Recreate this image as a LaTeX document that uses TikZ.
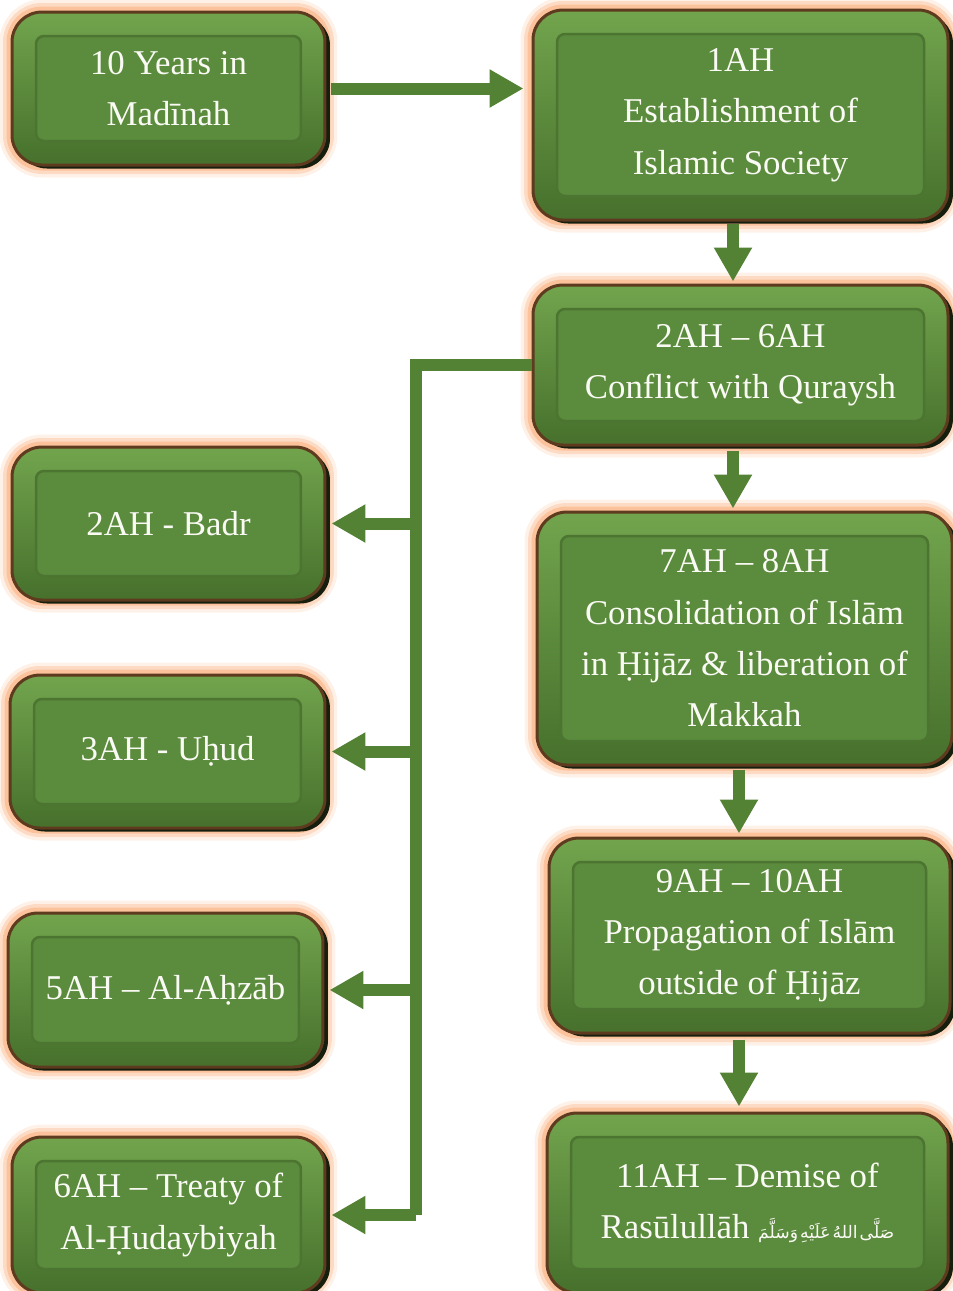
\documentclass[tikz,border=0pt]{standalone}
\usepackage{fontspec}
\setmainfont{Liberation Serif}
\newfontfamily\arabicfont[Script=Arabic]{DejaVu Sans}
\TeXXeTstate=1
\usetikzlibrary{arrows.meta,calc,positioning}
\definecolor{tlGreen}{HTML}{5B8B3D}
\definecolor{tlGreenLight}{HTML}{72A44D}
\definecolor{tlGreenDark}{HTML}{46702C}
\definecolor{tlEdge}{HTML}{4B7530}
\definecolor{tlRim}{HTML}{5E3A1E}
\definecolor{tlShade}{HTML}{161E0E}
\definecolor{tlGlow}{HTML}{FBB88C}
\definecolor{tlLink}{HTML}{548235}
\definecolor{tlText}{HTML}{FAFAF4}
\newcommand{\tlfont}{\fontsize{9.9}{14.6}\selectfont}
\tikzset{
  tl inner/.style={draw=tlEdge, fill=tlGreen, line width=.25mm, rounded corners=.8mm},
  tl box/.style={
    rectangle, rounded corners=3mm,
    draw=tlRim, line width=.3mm,
    top color=tlGreenLight, bottom color=tlGreenDark,
    text=tlText, align=center, font=\tlfont, inner sep=0pt,
    preaction={draw=tlGlow, line width=2.5mm, draw opacity=.2},
    preaction={draw=tlGlow, line width=1.8mm, draw opacity=.4},
    preaction={draw=tlGlow, line width=1.1mm, draw opacity=.7},
    preaction={fill=tlShade, transform canvas={shift={(.5mm,-.35mm)}}},
    path picture={
      \path[tl inner] ($(path picture bounding box.south west)+(2.4mm,2.4mm)$)
        rectangle ($(path picture bounding box.north east)-(2.4mm,2.4mm)$);
    }
  },
  tl link/.style={draw=tlLink, line width=1.2mm},
  tl arrow/.style={tl link, -{Triangle[length=3.4mm,width=3.6mm]}}
}

\begin{document}
\begin{tikzpicture}[x=.1mm,y=-.1mm]
  \useasboundingbox (0,0) rectangle (953,1291);

  % right column
  \node[tl box, minimum width=31.3mm, minimum height=15.3mm] (ten) at (168.5,88.5) {10 Years in\\Madīnah};
  \node[tl box, minimum width=41.5mm, minimum height=21mm] (est) at (740.5,115) {1AH\\Establishment of\\Islamic Society};
  \node[tl box, minimum width=41.5mm, minimum height=16mm] (conf) at (740.5,365) {2AH – 6AH\\Conflict with Quraysh};
  \node[tl box, minimum width=41.5mm, minimum height=25.3mm] (cons) at (744.5,638.5) {7AH – 8AH\\Consolidation of Islām\\in Ḥijāz \& liberation of\\Makkah};
  \node[tl box, minimum width=40.1mm, minimum height=19.5mm] (prop) at (749.5,935.5) {9AH – 10AH\\Propagation of Islām\\outside of Ḥijāz};
  \node[tl box, minimum width=40.1mm, minimum height=18mm] (dem) at (747.5,1203) {11AH – Demise of\\Rasūlullāh {\arabicfont\fontsize{4.9}{7}\selectfont\spaceskip=.12em\beginR صَلَّى اللهُ عَلَيْهِ وَسَلَّمَ\endR}};

  % left column
  \node[tl box, minimum width=31.3mm, minimum height=15.3mm] (badr) at (168.5,523.5) {2AH - Badr};
  \node[tl box, minimum width=31.5mm, minimum height=15.3mm] (uhud) at (167.5,751.5) {3AH - Uḥud};
  \node[tl box, minimum width=31.5mm, minimum height=15.4mm] (ahzab) at (165.5,990) {5AH – Al-Aḥzāb};
  \node[tl box, minimum width=31.3mm, minimum height=15.6mm] (hud) at (168.5,1215) {6AH – Treaty of\\Al-Ḥudaybiyah};

  % connectors
  \draw[tl arrow, shorten <=.5mm, shorten >=.8mm] (ten.east) -- (ten.east -| est.west);
  \coordinate (c1) at ([xshift=-.75mm]est.south);
  \coordinate (c2) at ([xshift=-.75mm]conf.south);
  \coordinate (c3) at ([xshift=-.55mm]cons.south);
  \coordinate (c4) at ([xshift=-1.05mm]prop.south);
  \draw[tl arrow, shorten <=.2mm, shorten >=.2mm] (c1) -- (c1 |- conf.north);
  \draw[tl arrow, shorten <=.4mm, shorten >=.2mm] (c2) -- (c2 |- cons.north);
  \draw[tl arrow, shorten <=.3mm, shorten >=.3mm] (c3) -- (c3 |- prop.north);
  \draw[tl arrow, shorten <=.5mm, shorten >=.5mm] (c4) -- (c4 |- dem.north);

  \coordinate (spine) at (416,0);
  \draw[tl link] (conf.west) -- (conf.west -| spine) -- (hud.east -| spine);
  \foreach \b in {badr,uhud,ahzab,hud}
    \draw[tl arrow, shorten >=.5mm] (\b.east -| spine) -- (\b.east);
\end{tikzpicture}
\end{document}
